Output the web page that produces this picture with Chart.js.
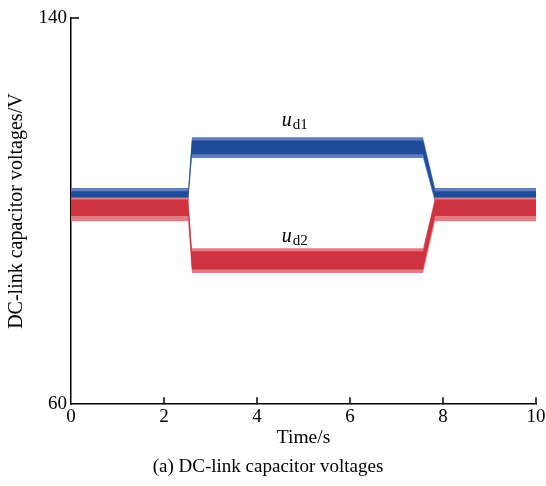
<!DOCTYPE html>
<html>
<head>
<meta charset="utf-8">
<script src="https://cdn.jsdelivr.net/npm/chart.js@4"></script>
<style>
    body { margin: 0; background: #fff; }
    #grafico { display: block; }
</style>
</head>
<body>
<canvas id="grafico" width="546" height="486"></canvas>
<script>
// time keypoints (s) and the envelopes of each noisy voltage band (V)
const tempo = [0, 2.52, 2.6, 7.57, 7.83, 10];
const ud1Pico = [104.8, 104.8, 115.3, 115.3, 104.8, 104.8];
const ud1Topo = [104.1, 104.1, 114.6, 114.6, 104.1, 104.1];
const ud1Base = [102.4, 102.4, 111.8, 111.8, 102.4, 102.4];
const ud1Vale = [101.8, 101.8, 111.0, 111.0, 101.8, 101.8];
const ud2Pico = [102.8, 102.8, 92.3, 92.3, 102.8, 102.8];
const ud2Topo = [102.4, 102.4, 91.7, 91.7, 102.4, 102.4];
const ud2Base = [99.0, 99.0, 87.9, 87.9, 99.0, 99.0];
const ud2Vale = [97.9, 97.9, 87.2, 87.2, 97.9, 97.9];
const ticksX = [0, 2, 4, 6, 8, 10];
const ticksY = [60, 140];
const rotulos = [
    { texto: 'u', sub: 'd1', x: 4.77, y: 117.6 },
    { texto: 'u', sub: 'd2', x: 4.77, y: 93.6 }
];

const fonte = "'Liberation Serif', 'Times New Roman', serif";
const azul = '#1f4b9b';
const azulClaro = '#5d7fbf';
const vermelho = '#cf3340';
const vermelhoClaro = '#e07c84';

function pontos(valores) {
    return tempo.map((t, i) => ({ x: t, y: valores[i] }));
}

function faixa(cima, baixo, cor, ordem) {
    return [{
        data: pontos(cima),
        borderWidth: 0,
        pointRadius: 0,
        tension: 0,
        backgroundColor: cor,
        fill: '+1',
        order: ordem
    }, {
        data: pontos(baixo),
        borderWidth: 0,
        pointRadius: 0,
        tension: 0,
        fill: false,
        order: ordem
    }];
}

// tick marks pointing into the plot, and the u_d labels
const marcas = {
    id: 'marcas',
    afterDraw(chart) {
        const ctx = chart.ctx;
        const sx = chart.scales.x;
        const sy = chart.scales.y;
        ctx.save();
        ctx.strokeStyle = '#000';
        ctx.lineWidth = 1.5;
        ctx.beginPath();
        ticksX.slice(1).forEach((v) => {
            const px = sx.getPixelForValue(v);
            ctx.moveTo(px, sy.bottom);
            ctx.lineTo(px, sy.bottom - 7);
        });
        const topo = sy.getPixelForValue(140);
        ctx.moveTo(sx.left, topo);
        ctx.lineTo(sx.left + 8, topo);
        ctx.stroke();

        ctx.fillStyle = '#000';
        ctx.textBaseline = 'alphabetic';
        rotulos.forEach((r) => {
            const px = sx.getPixelForValue(r.x);
            const py = sy.getPixelForValue(r.y);
            ctx.font = 'italic 20px ' + fonte;
            const largura = ctx.measureText(r.texto).width;
            ctx.textAlign = 'left';
            ctx.fillText(r.texto, px - 11, py);
            ctx.font = '15px ' + fonte;
            ctx.fillText(r.sub, px - 11 + largura + 1, py + 3);
        });
        ctx.restore();
    }
};

new Chart(document.getElementById('grafico'), {
    type: 'line',
    data: {
        datasets: [
            ...faixa(ud1Pico, ud1Vale, azulClaro, 4),
            ...faixa(ud1Topo, ud1Base, azul, 3),
            ...faixa(ud2Pico, ud2Vale, vermelhoClaro, 2),
            ...faixa(ud2Topo, ud2Base, vermelho, 1)
        ]
    },
    options: {
        responsive: false,
        animation: false,
        layout: {
            padding: { top: 18, right: 10, left: 0, bottom: 0 }
        },
        scales: {
            x: {
                type: 'linear',
                min: 0,
                max: 10,
                afterBuildTicks: (s) => { s.ticks = ticksX.map((v) => ({ value: v })); },
                afterFit: (s) => {
                    s.height = 49;
                    s.paddingLeft = 0;
                    s.paddingRight = 0;
                },
                grid: { display: false, drawTicks: false },
                border: { color: '#000', width: 1.5 },
                ticks: {
                    color: '#000',
                    padding: 3,
                    maxRotation: 0,
                    font: { family: fonte, size: 19, lineHeight: 1 }
                },
                title: {
                    display: true,
                    text: 'Time/s',
                    color: '#000',
                    padding: { top: 0, bottom: 6 },
                    font: { family: fonte, size: 19.5, lineHeight: 1 }
                }
            },
            y: {
                min: 60,
                max: 140,
                afterBuildTicks: (s) => { s.ticks = ticksY.map((v) => ({ value: v })); },
                afterFit: (s) => { s.width = 71; },
                grid: { display: false, drawTicks: false },
                border: { color: '#000', width: 1.5 },
                ticks: {
                    color: '#000',
                    padding: 4,
                    font: { family: fonte, size: 19 }
                },
                title: {
                    display: true,
                    text: 'DC-link capacitor voltages/V',
                    color: '#000',
                    padding: { top: 5, bottom: 0 },
                    font: { family: fonte, size: 20 }
                }
            }
        },
        plugins: {
            legend: { display: false },
            tooltip: { enabled: false },
            title: {
                display: true,
                position: 'bottom',
                text: '(a) DC-link capacitor voltages',
                color: '#000',
                padding: { top: 2, bottom: 8 },
                font: { family: fonte, size: 19, weight: 'normal' }
            }
        }
    },
    plugins: [marcas]
});
</script>
</body>
</html>
